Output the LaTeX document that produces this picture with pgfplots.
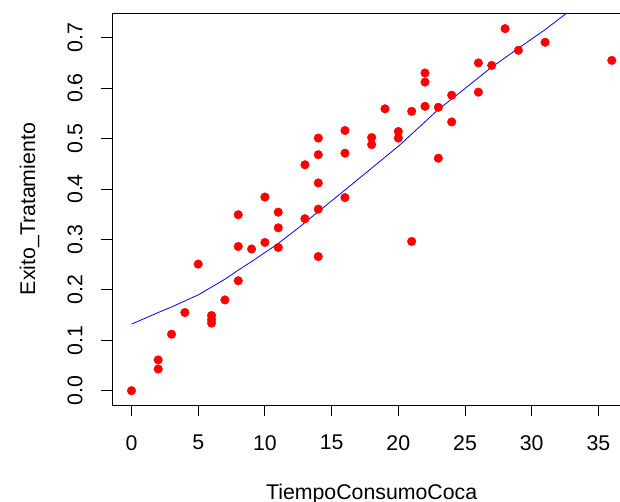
\documentclass[border=0pt]{standalone}
\usepackage{pgfplots}
\pgfplotsset{compat=1.18}
\usepackage{fontspec}
\setmainfont{Liberation Sans}
\usetikzlibrary{calc}
\definecolor{rred}{RGB}{255,0,0}
\definecolor{rblue}{RGB}{0,0,255}
\begin{document}
\begin{tikzpicture}
\begin{axis}[
  name=ax,
  at={(0,0)}, anchor=south west,
  scale only axis,
  width=518.7bp, height=391.7bp,
  xmin=-1.44, xmax=37.44,
  ymin=-0.0284, ymax=0.7484,
  axis line style={line width=0.9pt, black},
  xtick={0,5,...,35},
  ytick={0,0.1,0.2,0.3,0.4,0.5,0.6,0.7},
  xtick pos=bottom, ytick pos=left,
  tick align=outside,
  major tick length=11bp,
  tick style={line width=0.9pt, black},
  /pgf/number format/assume math mode=true,
  tick label style={font=\fontsize{21.3bp}{25bp}\selectfont, inner sep=0pt, text=black},
  xticklabel shift=19bp,
  yticklabel shift=19bp,
  yticklabel style={rotate=90, anchor=base, /pgf/number format/fixed, /pgf/number format/fixed zerofill, /pgf/number format/precision=1},
  xlabel={TiempoConsumoCoca},
  ylabel={Exito\_Tratamiento},
  label style={font=\fontsize{21.3bp}{25bp}\selectfont, inner sep=0pt},
  xlabel style={at={(axis description cs:0.5,-0.240)}, anchor=base},
  ylabel style={at={(axis description cs:-0.149,0.5)}, anchor=base},
  clip=true,
]
\addplot[only marks, mark=*, mark size=4.3bp, color=rred, mark options={draw=rred, fill=rred}] coordinates {
(0,0) (2,0.061) (2,0.043) (3,0.112) (4,0.155) (5,0.251)
(6,0.149) (6,0.141) (6,0.134) (7,0.180)
(8,0.349) (8,0.286) (8,0.218) (9,0.281)
(10,0.384) (10,0.294)
(11,0.354) (11,0.323) (11,0.284)
(13,0.448) (13,0.341)
(14,0.501) (14,0.468) (14,0.412) (14,0.360) (14,0.266)
(16,0.516) (16,0.471) (16,0.383)
(18,0.502) (18,0.488) (19,0.559)
(20,0.514) (20,0.501)
(21,0.554) (21,0.296)
(22,0.630) (22,0.612) (22,0.564)
(23,0.562) (23,0.461)
(24,0.586) (24,0.533)
(26,0.650) (26,0.592)
(27,0.645) (28,0.718) (29,0.675) (31,0.691) (36,0.655)
};
\addplot[color=rblue, line width=0.8pt, no marks] coordinates {
(0,0.132) (2,0.155) (3,0.166) (5,0.190) (7,0.221) (8,0.239) (9,0.256)
(10,0.274) (11,0.292) (12.61,0.325) (14,0.355) (16,0.398) (17.85,0.438)
(20.1,0.487) (22.97,0.557) (24.84,0.596) (26.97,0.641) (29,0.679)
(31,0.716) (32.58,0.748) (33,0.756)
};
\end{axis}
\pgfresetboundingbox
\path[use as bounding box] ($(ax.south west)+(-112.3bp,-97bp)$) rectangle ++(620bp,502bp);
\end{tikzpicture}
\end{document}
